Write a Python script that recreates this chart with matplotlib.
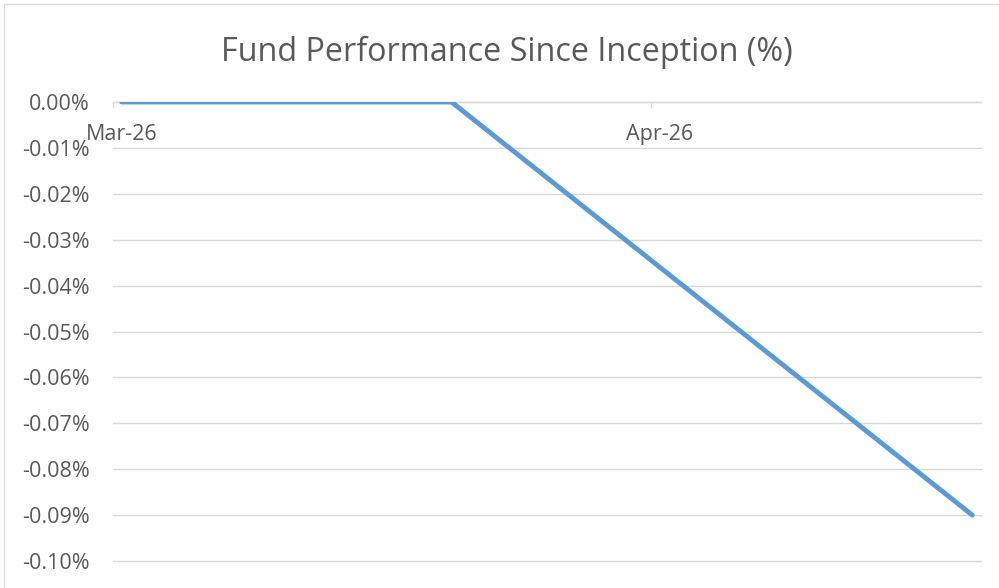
import matplotlib
matplotlib.use("Agg")
import matplotlib.pyplot as plt
import matplotlib.dates as mdates
from matplotlib.patches import Rectangle
import datetime as dt

# Data
dates = ["2026-03-01", "2026-03-20", "2026-04-19"]
performance = [0.00, 0.00, -0.09]   # percent
y_ticks = [0.00, -0.01, -0.02, -0.03, -0.04, -0.05, -0.06, -0.07, -0.08, -0.09, -0.10]
x_tick_dates = ["2026-03-01", "2026-04-01"]
x_tick_labels = ["Mar-26", "Apr-26"]
title = "Fund Performance Since Inception (%)"

plt.rcParams['font.family'] = ['Open Sans', 'DejaVu Sans']
W, H = 999, 588
fig = plt.figure(figsize=(W/100, H/100), dpi=100)
fig.patch.set_facecolor("white")

# chart border
fig.patches.append(Rectangle((4/W, -0.01), 1.2, (H-4)/H + 0.01, transform=fig.transFigure,
                             fill=False, edgecolor="#D9D9D9", linewidth=1.0))

ax = fig.add_axes([113/W, (H-561)/H, (981-113)/W, (561-102)/H])

half_day = dt.timedelta(hours=12)
xd = [dt.datetime.strptime(d, "%Y-%m-%d") + half_day for d in dates]
ax.plot(xd, performance, color="#5B9BD5", linewidth=3.5, solid_capstyle="round",
        solid_joinstyle="round", zorder=3)

ax.set_xlim(dt.datetime(2026, 3, 1), dt.datetime(2026, 4, 20))
ax.set_ylim(-0.10, 0.0)

ax.set_yticks(y_ticks)
ax.set_yticklabels([f"{v:.2f}%" for v in y_ticks])
ax.yaxis.grid(True, color="#D9D9D9", linewidth=1.0)
for gl in ax.get_ygridlines():
    gl.set_clip_on(False)
ax.tick_params(axis="y", length=0, pad=16.5, labelsize=15.5, labelcolor="#595959")

xt = [dt.datetime.strptime(d, "%Y-%m-%d") for d in x_tick_dates]
ax.set_xticks(xt)
ax.set_xticklabels([])
ax.tick_params(axis="x", which="major", direction="out", length=4.5, width=1, color="#D9D9D9")
ax.set_xticks([t + half_day for t in xt], minor=True)
ax.set_xticklabels(x_tick_labels, minor=True)
ax.tick_params(axis="x", which="minor", length=4.5, width=0, pad=11.5,
               labelsize=15.5, labelcolor="#595959")

for s in ["left", "right", "top"]:
    ax.spines[s].set_visible(False)
ax.spines["bottom"].set_position(("data", 0))
ax.spines["bottom"].set_color("#D9D9D9")
ax.spines["bottom"].set_linewidth(1.0)
ax.set_facecolor("none")

fig.text(507/W, 1 - 52.5/H, title, ha="center", va="center", fontsize=23.3, color="#595959")

fig.savefig("out.png", dpi=100)
